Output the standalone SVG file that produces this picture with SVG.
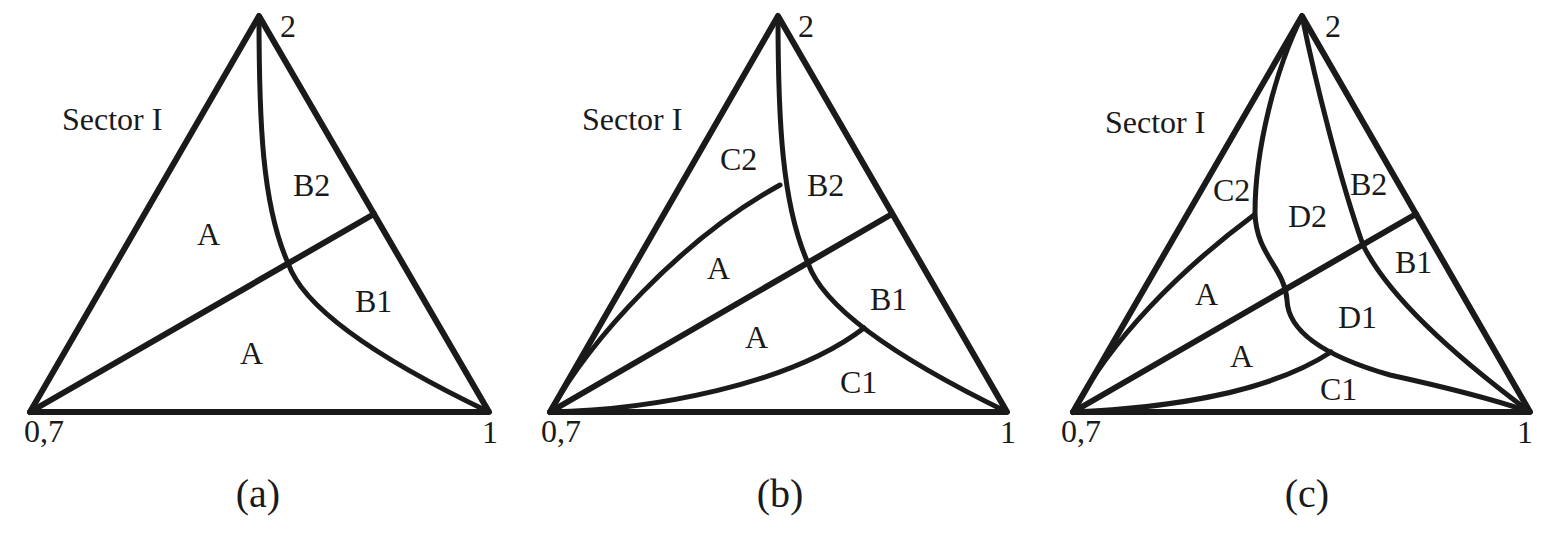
<svg xmlns="http://www.w3.org/2000/svg" width="1553" height="536" viewBox="0 0 1553 536">
<style>
.ln{fill:none;stroke:#1a1a1a;stroke-width:6;stroke-linejoin:round;stroke-linecap:round}
.cv{fill:none;stroke:#1a1a1a;stroke-width:5;stroke-linecap:round}
.t{font-family:'Liberation Serif','Times New Roman',serif;font-size:32px;fill:#1a1a1a}
.cap{font-size:40px;text-anchor:middle}
</style>
<rect width="1553" height="536" fill="#fff"/>
<g id="panel-a">
<g id="a-outline"><path class="ln" d="M30,412 L259,16 L489,412 Z"/></g>
<g id="a-connectors">
<path class="ln" d="M30,412 L374,214"/>
<path class="cv" d="M259,16 C259,120 262,205 288,263 C302,305 370,355 489,412"/>
</g>
<g id="a-labels" class="t">
<text x="62" y="130">Sector I</text>
<text x="197" y="245">A</text>
<text x="293" y="196">B2</text>
<text x="355" y="312">B1</text>
<text x="240" y="364">A</text>
<text x="24" y="442">0,7</text>
<text x="482" y="443">1</text>
<text x="280" y="37">2</text>
<text class="cap" x="258" y="507">(a)</text>
</g>
</g>
<g id="panel-b">
<g id="b-outline"><path class="ln" d="M550,412 L778,16 L1007,412 Z"/></g>
<g id="b-connectors">
<path class="ln" d="M550,412 L892,214"/>
<path class="cv" d="M778,16 C778,120 782,205 808,263 C822,305 890,355 1007,412"/>
<path class="cv" d="M550,412 C590,340 680,240 780,185"/>
<path class="cv" d="M550,412 C650,410 790,385 864,328"/>
</g>
<g id="b-labels" class="t">
<text x="582" y="130">Sector I</text>
<text x="720" y="170">C2</text>
<text x="807" y="196">B2</text>
<text x="707" y="279">A</text>
<text x="870" y="310">B1</text>
<text x="745" y="348">A</text>
<text x="840" y="393">C1</text>
<text x="541" y="442">0,7</text>
<text x="1000" y="443">1</text>
<text x="798" y="37">2</text>
<text class="cap" x="780" y="507">(b)</text>
</g>
</g>
<g id="panel-c">
<g id="c-outline"><path class="ln" d="M1073,412 L1302,16 L1530,412 Z"/></g>
<g id="c-connectors">
<path class="ln" d="M1073,412 L1416,214"/>
<path class="cv" d="M1302,16 C1315,80 1340,180 1363,245 C1390,300 1460,360 1530,412"/>
<path class="cv" d="M1302,16 C1275,70 1255,150 1255,213 C1256,255 1285,268 1287,300 C1288,330 1320,355 1390,375 C1440,386 1490,398 1530,412"/>
<path class="cv" d="M1073,412 C1110,340 1180,270 1254,215"/>
<path class="cv" d="M1073,412 C1170,408 1270,392 1331,352"/>
</g>
<g id="c-labels" class="t">
<text x="1105" y="133">Sector I</text>
<text x="1213" y="201">C2</text>
<text x="1350" y="195">B2</text>
<text x="1288" y="227">D2</text>
<text x="1395" y="273">B1</text>
<text x="1195" y="305">A</text>
<text x="1338" y="328">D1</text>
<text x="1230" y="367">A</text>
<text x="1320" y="400">C1</text>
<text x="1061" y="442">0,7</text>
<text x="1517" y="443">1</text>
<text x="1325" y="37">2</text>
<text class="cap" x="1307" y="507">(c)</text>
</g>
</g>
</svg>
